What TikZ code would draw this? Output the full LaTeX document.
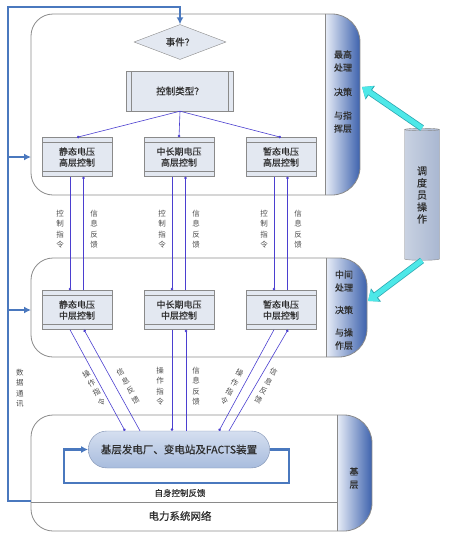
\documentclass[tikz,border=0pt]{standalone}
\usepackage{fontspec}
\newfontfamily\cjk[FakeBold=0.5]{Noto Sans CJK SC}
\newfontfamily\cjkthin{Noto Sans CJK SC}
\usetikzlibrary{shapes.geometric,shapes.misc,arrows.meta}

\definecolor{ink}{HTML}{2E2E2E}
\definecolor{edge}{HTML}{8A8A8A}
\definecolor{boxfill}{HTML}{E3E8F1}
\definecolor{stripL}{HTML}{E9EEF8}
\definecolor{stripR}{HTML}{3D62AD}
\definecolor{linkc}{HTML}{4B3FD0}
\definecolor{busc}{HTML}{4A78BE}
\definecolor{cyanc}{HTML}{4DE8E8}
\definecolor{cyanline}{HTML}{2AA6B0}
\definecolor{baseT}{HTML}{D5DFF0}
\definecolor{baseB}{HTML}{A8BCDD}
\definecolor{baseedge}{HTML}{7D8FB0}
\definecolor{dispL}{HTML}{C9D2E2}
\definecolor{dispR}{HTML}{A9B7D1}

\begin{document}
\begin{tikzpicture}[x=1pt, y=-1pt,
        every node/.style={font=\cjk\fontsize{9}{11}\selectfont, text=ink},
        frame/.style={draw=edge, line width=0.8pt},
        decide/.style={diamond, draw=edge, fill=boxfill, aspect=2.6, minimum width=92pt,
            minimum height=35pt, inner sep=0pt, font=\cjk\fontsize{9.5}{11}\selectfont},
        ctype/.style={rectangle, draw=edge, fill=boxfill, minimum width=107pt, minimum height=40pt,
            font=\cjk\fontsize{9.5}{11}\selectfont,
            path picture={\draw[edge] ([xshift=5pt]path picture bounding box.north west) -- ([xshift=5pt]path picture bounding box.south west)
                ([xshift=-5pt]path picture bounding box.north east) -- ([xshift=-5pt]path picture bounding box.south east);}},
        ctrl/.style={rectangle, draw=edge, fill=boxfill, minimum width=70pt, minimum height=39pt,
            inner sep=0pt, align=center,
            path picture={\draw[edge] ([yshift=-5pt]path picture bounding box.north west) -- ([yshift=-5pt]path picture bounding box.north east)
                ([yshift=5pt]path picture bounding box.south west) -- ([yshift=5pt]path picture bounding box.south east);}},
        base/.style={rounded rectangle, draw=baseedge, top color=baseT, bottom color=baseB,
            minimum width=188pt, minimum height=37pt, font=\cjk\fontsize{10.5}{12}\selectfont},
        disp/.style={cylinder, shape border rotate=90, aspect=0.25, draw=edge, left color=dispL,
            right color=dispR, minimum width=35pt, minimum height=132pt, inner sep=0pt, align=center,
            font=\cjk\fontsize{10}{12}\selectfont},
        link/.style={draw=linkc, line width=0.6pt, -{Circle[length=2.6pt]}},
        bus/.style={draw=busc, line width=2.2pt, -{Latex[length=7pt,width=7pt]}},
        dispatch/.style={draw=cyanc, line width=5pt, -{Triangle[length=9pt,width=14pt]},
            preaction={draw=cyanline, line width=6.5pt, -{Triangle[length=10pt,width=16pt]}}},
        tag/.style={align=center, text=ink!85, font=\cjkthin\fontsize{7.5}{10.5}\selectfont},
        side/.style={align=center, font=\cjk\fontsize{9}{13}\selectfont},
    ]
    \useasboundingbox (0,0) rectangle (450,536);

    % three layers: top / middle / base
    \foreach \t/\b/\s/\r in {14/195/325/360, 258/357/326/367, 415/531/337/372}{
        \draw[frame, rounded corners=22pt] (\s,\t) -- (31,\t) -- (31,\b) -- (\s,\b);
        \begin{scope}
            \clip[rounded corners=28pt] (\s-30,\t) rectangle (\r,\b);
            \shade[left color=stripL, right color=stripR] (\s,\t) rectangle (\r,\b);
        \end{scope}
        \draw[frame, rounded corners=28pt] (\s,\t) -- (\r,\t) -- (\r,\b) -- (\s,\b);
        \draw[frame] (\s,\t) -- (\s,\b);
    }
    \draw[frame] (31,502) -- (337,502);

    \node[decide] (event) at (180,42) {事件？};
    \node[ctype] (kind) at (180,91) {控制类型？};

    \node[ctrl] (hsta) at (77,157) {静态电压\\高层控制};
    \node[ctrl] (hlon) at (179,157) {中长期电压\\高层控制};
    \node[ctrl] (htra) at (281,157) {暂态电压\\高层控制};

    \node[ctrl] (msta) at (77,310) {静态电压\\中层控制};
    \node[ctrl] (mlon) at (179,310) {中长期电压\\中层控制};
    \node[ctrl] (mtra) at (281,310) {暂态电压\\中层控制};

    \node[base] (plant) at (179,449.5) {基层发电厂、变电站及FACTS装置};
    \node[disp] (disp) at (422,195) {调\\度\\员\\操\\作};

    % layer names
    \node[side] (topA) at (343,61) {最高\\处理};
    \node[side] (topB) at (343,92) {决策};
    \node[side] (topC) at (343,122) {与指\\挥层};
    \node[side] (midA) at (344,281) {中间\\处理};
    \node[side] (midB) at (344,310) {决策};
    \node[side] (midC) at (344,339) {与操\\作层};
    \node[side] (baseA) at (354,478) {基\\层};

    \draw[link] (kind.south) -- (hsta.north);
    \draw[link] (kind.south) -- (hlon.north);
    \draw[link] (kind.south) -- (htra.north);

    \foreach \h/\m in {hsta/msta, hlon/mlon, htra/mtra}{
        \draw[link] ([xshift=-7pt]\h.south) -- ([xshift=-7pt]\m.north);
        \draw[link] ([xshift=6.5pt]\m.north) -- ([xshift=6.5pt]\h.south);
    }
    \node[tag] (cmdA) at (60,229) {控\\制\\指\\令};
    \node[tag] (fbA) at (94,229) {信\\息\\反\\馈};
    \node[tag] (cmdB) at (162,229) {控\\制\\指\\令};
    \node[tag] (fbB) at (196,229) {信\\息\\反\\馈};
    \node[tag] (cmdC) at (264,229) {控\\制\\指\\令};
    \node[tag] (fbC) at (298,229) {信\\息\\反\\馈};

    \draw[link] ([xshift=-7pt]msta.south) -- ([xshift=-54pt]plant.north);
    \draw[link] ([xshift=-39pt]plant.north) -- ([xshift=7pt]msta.south);
    \draw[link] ([xshift=-7pt]mlon.south) -- ([xshift=-7pt]plant.north);
    \draw[link] ([xshift=7pt]plant.north) -- ([xshift=7pt]mlon.south);
    \draw[link] ([xshift=-7pt]mtra.south) -- ([xshift=40pt]plant.north);
    \draw[link] ([xshift=50pt]plant.north) -- ([xshift=7pt]mtra.south);

    \node[tag, rotate=29] (opA) at (94,388) {操\\作\\指\\令};
    \node[tag, rotate=29] (fbD) at (128,386) {信\\息\\反\\馈};
    \node[tag] (opB) at (160,386) {操\\作\\指\\令};
    \node[tag] (fbE) at (196,386) {信\\息\\反\\馈};
    \node[tag, rotate=-29] (opC) at (232,387) {操\\作\\指\\令};
    \node[tag, rotate=-29] (fbF) at (266,386) {信\\息\\反\\馈};

    % data bus on the left
    \coordinate (netw) at (31,501);
    \coordinate (tapT) at (8,157);
    \coordinate (topL) at (31,157);
    \coordinate (tapM) at (8,310);
    \coordinate (midL) at (31,310);
    \draw[bus] (netw) -- ++(-23,0) |- ([yshift=17pt]event.north) -- (event.north);
    \draw[bus] (tapT) -- (topL);
    \draw[bus] (tapM) -- (midL);
    \node[tag] (datac) at (20,388) {数\\据\\通\\讯};

    % self feedback
    \draw[bus] (plant.east) -- ++(19,0) -- ++(0,33.5) -- ++(-225,0) -- ++(0,-33.5) -- (plant.west);
    \node[font=\cjk\fontsize{8.5}{10}\selectfont] (selffb) at (180,493) {自身控制反馈};
    \node[font=\cjk\fontsize{10.5}{12}\selectfont] (grid) at (180,516) {电力系统网络};

    % dispatcher
    \coordinate (topR) at (362,87);
    \coordinate (midR) at (368,301);
    \draw[dispatch] (disp.north) -- (topR);
    \draw[dispatch] (disp.south) -- (midR);

\end{tikzpicture}
\end{document}
